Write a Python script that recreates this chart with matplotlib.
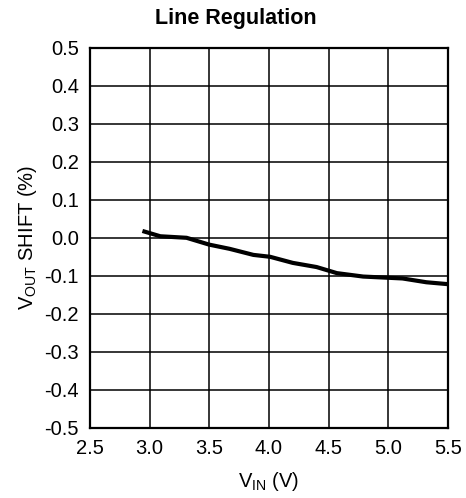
import numpy as np
import matplotlib
matplotlib.use("Agg")
import matplotlib.pyplot as plt

plt.rcParams['font.family'] = ['Liberation Sans', 'DejaVu Sans']
plt.rcParams['mathtext.fontset'] = 'custom'
plt.rcParams['mathtext.rm'] = 'Liberation Sans'
plt.rcParams['mathtext.it'] = 'Liberation Sans'

# line regulation curve
vin = [2.94, 3.09, 3.31, 3.50, 3.67, 3.87, 4.01, 4.20, 4.40, 4.57, 4.79, 5.12, 5.32, 5.50]
vout_shift = [0.018, 0.004, 0.000, -0.018, -0.029, -0.045, -0.050, -0.066, -0.077,
              -0.093, -0.102, -0.107, -0.117, -0.122]

xticks = [2.5, 3.0, 3.5, 4.0, 4.5, 5.0, 5.5]
yticks = [0.5, 0.4, 0.3, 0.2, 0.1, 0.0, -0.1, -0.2, -0.3, -0.4, -0.5]

fig = plt.figure(figsize=(4.66, 4.98), dpi=100)
ax = fig.add_axes([0.193, 0.141, 0.768, 0.763])

ax.plot(vin, vout_shift, color='black', lw=3, solid_capstyle='butt')

ax.set_xlim(2.5, 5.5)
ax.set_ylim(-0.5, 0.5)
ax.set_xticks(xticks)
ax.set_xticklabels(['%.1f' % t for t in xticks])
ax.set_yticks(yticks)
ax.set_yticklabels(['%.1f' % t for t in yticks])
ax.tick_params(length=0, labelsize=14.5)
ax.tick_params(axis='x', pad=8)
ax.tick_params(axis='y', pad=8)
ax.grid(True, color='black', lw=1.1)
for s in ax.spines.values():
    s.set_linewidth(1.6)

ax.set_xlabel(r'V$_{\mathrm{IN}}$ (V)', fontsize=14.5, labelpad=9)
ax.set_ylabel(r'V$_{\mathrm{OUT}}$ SHIFT (%)', fontsize=14.5, labelpad=4)
fig.text(0.505, 0.962, 'Line Regulation', ha='center', va='center',
         fontsize=15.5, fontweight='bold')

fig.savefig('out.png', dpi=100)
